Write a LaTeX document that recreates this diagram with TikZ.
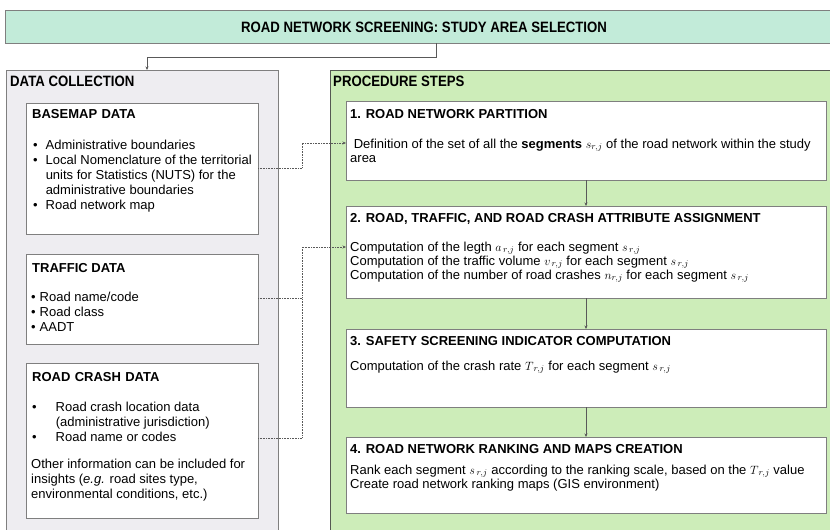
\documentclass[tikz,border=0pt]{standalone}
\usepackage{fontspec}
\setmainfont{Liberation Sans}
\newfontfamily\condbf[FakeStretch=0.88]{Liberation Sans}
\usetikzlibrary{arrows.meta,calc,shadows}
\definecolor{mint}{HTML}{C2EBD9}
\definecolor{lgray}{HTML}{EEEDF1}
\definecolor{lgreen}{HTML}{CDEDB9}
\definecolor{bord}{HTML}{7F7F7F}
\newcommand\mlines[1]{\begin{tabular}[t]{@{}l@{}}#1\end{tabular}}
\begin{document}
\begin{tikzpicture}[x=1pt,y=-1pt,
  panel/.style={draw=bord,line width=1pt,anchor=north west,inner sep=0pt,outer sep=0pt},
  whitebox/.style={panel,fill=white,drop shadow={shadow xshift=1pt,shadow yshift=-1pt,fill=black,opacity=0.35}},
  txt/.style={anchor=base west,inner sep=0pt,font=\fontsize{13}{14}\selectfont},
  lst/.style={anchor=base west,inner sep=0pt,font=\fontsize{13}{15.2}\selectfont},
  hd/.style={anchor=base west,inner sep=0pt,font=\fontsize{13}{15}\selectfont\bfseries},
  bighd/.style={anchor=base west,inner sep=0pt,font=\fontsize{15}{17}\selectfont\condbf\bfseries},
  link/.style={draw=black!65,line width=0.8pt},
  dotlink/.style={draw=black!65,line width=0.6pt,densely dotted},
  tip/.style={-{Stealth[length=3.5pt,width=3pt]}}
]
\useasboundingbox (0,0) rectangle (830,530);
% banner
\node[panel,fill=mint,minimum width=835,minimum height=33] (banner) at (5,10) {};
\node[bighd,anchor=base] (bannertxt) at (424,32) {ROAD NETWORK SCREENING: STUDY AREA SELECTION};
% panels
\node[panel,fill=lgray,minimum width=272,minimum height=480] (dc) at (6,70) {};
\node[bighd] (dctxt) at (10,86) {DATA COLLECTION};
\node[panel,fill=lgreen,draw=bord!80!lgreen!60!black,minimum width=510,minimum height=480] (ps) at (330,70) {};
\node[bighd] (pstxt) at (333,86) {PROCEDURE STEPS};
\coordinate (bout) at (436,43);
\coordinate (dcin) at (147,70);
\draw[link,tip] (bout) -- ++(0,14) -| (dcin);
% basemap
\node[whitebox,minimum width=232,minimum height=131] (bm) at (26,103) {};
\node[hd] (bmt) at (32,118) {BASEMAP\,\,DATA};
\node[lst] (bml) at (33,149) {\begin{tabular}[t]{@{}l@{\hspace{8pt}}l@{}}
•&Administrative boundaries\\
•&Local Nomenclature of the territorial\\
&units for Statistics (NUTS) for the\\
&administrative boundaries\\
•&Road network map\end{tabular}};
% traffic
\node[whitebox,minimum width=232,minimum height=90] (tr) at (26,254) {};
\node[hd] (trt) at (32,272) {TRAFFIC DATA};
\node[lst] (trl) at (31,301) {\begin{tabular}[t]{@{}l@{\hspace{4pt}}l@{}}
•&Road name/code\\
•&Road class\\
•&AADT\end{tabular}};
% crash
\node[whitebox,minimum width=232,minimum height=155] (cr) at (26,363) {};
\node[hd] (crt) at (32,381) {ROAD\,\,CRASH\,\,DATA};
\node[lst] (crl) at (32,411) {\begin{tabular}[t]{@{}l@{\hspace{19pt}}l@{}}
•&Road crash location data\\
&(administrative jurisdiction)\\
•&Road name or codes\end{tabular}};
\node[lst] (cro) at (31,468) {\mlines{Other information can be included for\\insights (\textit{e.g.} road sites type,\\environmental conditions, etc.)}};
% steps
\node[whitebox,minimum width=480,minimum height=79] (s1) at (346,101) {};
\node[hd] (s1t) at (350,118) {1. ROAD NETWORK PARTITION};
\node[txt] (s1x) at (350,148) {\mlines{\ Definition of the set of all the \textbf{segments} $s_{r,j}$ of the road network within the study\\area}};
\node[whitebox,minimum width=480,minimum height=92] (s2) at (346,206) {};
\node[hd] (s2t) at (350,222) {2. ROAD, TRAFFIC, AND ROAD CRASH ATTRIBUTE ASSIGNMENT};
\node[txt] (s2x) at (350,251) {\mlines{Computation of the legth $a_{\,r,j}$ for each segment $s_{\,r,j}$\\
Computation of the traffic volume $v_{\,r,j}$ for each segment $s_{\,r,j}$\\
Computation of the number of road crashes $n_{r,j}$ for each segment $s_{\,r,j}$}};
\node[whitebox,minimum width=480,minimum height=78] (s3) at (346,329) {};
\node[hd] (s3t) at (350,345) {3. SAFETY SCREENING INDICATOR COMPUTATION};
\node[txt] (s3x) at (350,370) {Computation of the crash rate $T_{\,r,j}$ for each segment $s_{\,r,j}$};
\node[whitebox,minimum width=480,minimum height=76] (s4) at (346,437) {};
\node[hd] (s4t) at (350,453) {4. ROAD NETWORK RANKING AND MAPS CREATION};
\node[txt] (s4x) at (350,474) {\mlines{Rank each segment $s_{\,r,j}$ according to the ranking scale, based on the $T_{\,r,j}$ value\\
Create road network ranking maps (GIS environment)}};
% step connectors
\draw[link,tip] (s1.south) -- (s2.north);
\draw[link,tip] (s2.south) -- (s3.north);
\draw[link,tip] (s3.south) -- (s4.north);
% dotted connectors
\coordinate (j1) at (302,168);
\coordinate (j2) at (302,298);
\draw[dotlink,tip] ([yshift=-65pt]bm.north east) -- (j1) |- ([yshift=-42pt]s1.north west);
\draw[dotlink,tip] ([yshift=-44pt]tr.north east) -- (j2) |- ([yshift=-41pt]s2.north west);
\draw[dotlink] ([yshift=-75pt]cr.north east) -| (j2);
\end{tikzpicture}
\end{document}
